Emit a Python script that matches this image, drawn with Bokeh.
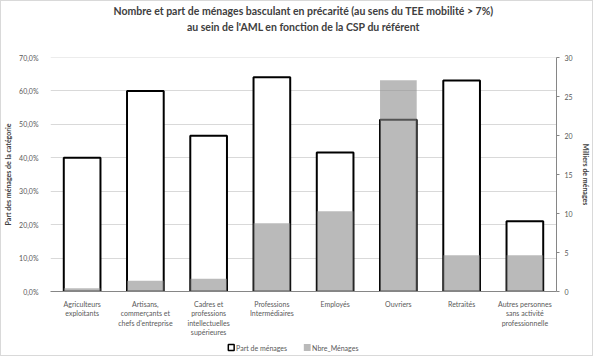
from bokeh.plotting import figure
from bokeh.layouts import column
from bokeh.core.properties import value
from bokeh.models import (Range1d, LinearAxis, FactorRange, CustomJSTickFormatter,
                          SingleIntervalTicker, ColumnDataSource, Title)
from bokeh.embed import file_html
from bokeh.resources import INLINE

categories = [
    "Agriculteurs\nexploitants",
    "Artisans,\ncommerçants et\nchefs d'entreprise",
    "Cadres et\nprofessions\nintellectuelles\nsupérieures",
    "Professions\nIntermédiaires",
    "Employés",
    "Ouvriers",
    "Retraités",
    "Autres personnes\nsans activité\nprofessionnelle",
]
part_menages = [0.400, 0.600, 0.466, 0.641, 0.416, 0.514, 0.631, 0.210]
nbre_menages = [0.43, 1.37, 1.62, 8.76, 10.3, 27.1, 4.66, 4.66]
left_ticks_step = 0.1
right_ticks_step = 5
title_line1 = "Nombre et part de ménages basculant en précarité (au sens du TEE mobilité > 7%)"
title_line2 = "au sein de l'AML en fonction de la CSP du référent"
legend_labels = ["Part de ménages", "Nbre_Ménages"]

FONT = "Lato"
TXT = "#595959"
TITLE_C = "#404040"
GRAY = "#8c8c8c"

src = ColumnDataSource(dict(cat=categories, part=part_menages, n=nbre_menages))

p = figure(x_range=FactorRange(*categories), y_range=Range1d(0, 0.7001),
           frame_width=506, frame_height=234, output_backend="svg", toolbar_location=None,
           min_border_left=49, min_border_right=8, min_border_top=40, min_border_bottom=36)
p.extra_y_ranges = {"n": Range1d(0, 30.001)}

# titles: spacer nearest the frame, then line 2, then line 1 (p.title, outermost)
p.title.text = title_line1
p.title.align = "center"
p.title.text_font = FONT
p.title.text_font_style = "bold"
p.title.text_font_size = "10.5px"
p.title.text_color = TITLE_C
p.title.standoff = 3
spacer = Title(text=" ", text_font_size="1px", standoff=21)
p.add_layout(spacer, "above")
t2 = Title(text=title_line2, align="center", text_font=FONT, text_font_style="bold",
           text_font_size="10.5px", text_color=TITLE_C, standoff=1)
p.add_layout(t2, "above")

bw = 0.58
p.vbar(x="cat", top="part", width=bw, source=src, fill_color="white", line_color=None)
p.vbar(x="cat", top="part", width=bw, source=src, fill_color=None,
       line_color="black", line_width=2)
p.vbar(x="cat", top="n", width=bw, source=src, y_range_name="n",
       fill_color=GRAY, fill_alpha=0.6, line_color=None)

# left axis
ya = p.yaxis[0]
ya.ticker = SingleIntervalTicker(interval=left_ticks_step)
ya.formatter = CustomJSTickFormatter(code="return (tick*100).toFixed(1).replace('.', ',') + '%';")
ya.axis_line_color = None
ya.major_tick_line_color = None
ya.minor_tick_line_color = None
ya.major_label_text_font = FONT
ya.major_label_text_font_size = "7px"
ya.major_label_text_color = TXT
ya.major_label_standoff = 6
ya.axis_label = "Part des ménages de la catégorie"
ya.axis_label_text_font = FONT
ya.axis_label_text_font_size = "7px"
ya.axis_label_text_font_style = "bold"
ya.axis_label_text_color = TITLE_C
ya.axis_label_standoff = 4

# right axis
ra = LinearAxis(y_range_name="n", ticker=SingleIntervalTicker(interval=right_ticks_step),
                axis_label="Milliers de ménages")
ra.axis_line_color = "#868686"
ra.major_tick_line_color = "#868686"
ra.major_tick_in = 0
ra.major_tick_out = 3
ra.minor_tick_line_color = None
ra.major_label_text_font = FONT
ra.major_label_text_font_size = "7px"
ra.major_label_text_color = TXT
ra.major_label_standoff = 4
ra.axis_label_text_font = FONT
ra.axis_label_text_font_size = "7px"
ra.axis_label_text_font_style = "bold"
ra.axis_label_text_color = TITLE_C
ra.axis_label_standoff = 6
p.add_layout(ra, "right")

# x axis
xa = p.xaxis[0]
xa.axis_line_color = "#868686"
xa.major_tick_line_color = None
xa.major_label_text_font = FONT
xa.major_label_text_font_size = "7px"
xa.major_label_text_color = TXT
xa.major_label_standoff = 2

p.xgrid.grid_line_color = None
p.ygrid.grid_line_color = "#d9d9d9"
p.ygrid.ticker = SingleIntervalTicker(interval=left_ticks_step)
p.outline_line_color = None
p.x_range.range_padding = 0
p.x_range.group_padding = 0

# legend strip below the chart (frame aligned with the chart frame, 1 unit = 1 px)
p2 = figure(x_range=Range1d(0, 506), y_range=Range1d(0, 16),
            width=578, height=16, output_backend="svg", toolbar_location=None,
            min_border_left=0, min_border_right=0, min_border_top=0, min_border_bottom=0)
p2.axis.visible = False
p2.grid.grid_line_color = None
p2.outline_line_color = None
key_x = [185.5, 263.5]
p2.rect(x=key_x[0], y=8, width=6, height=6, fill_color="white", line_color="black", line_width=1.5)
p2.rect(x=key_x[1], y=8, width=7, height=7, fill_color=GRAY, fill_alpha=0.6, line_color=None)
p2.text(x=[key_x[0] + 5, key_x[1] + 5], y=[8, 8], text=legend_labels,
        text_font=value(FONT), text_font_size="7px", text_color=TXT,
        text_baseline="middle", text_align="left")

layout = column(p, p2, spacing=0)
layout.styles = {"border": "1px solid #d9d9d9"}

open("out.html", "w").write(file_html(layout, INLINE))
